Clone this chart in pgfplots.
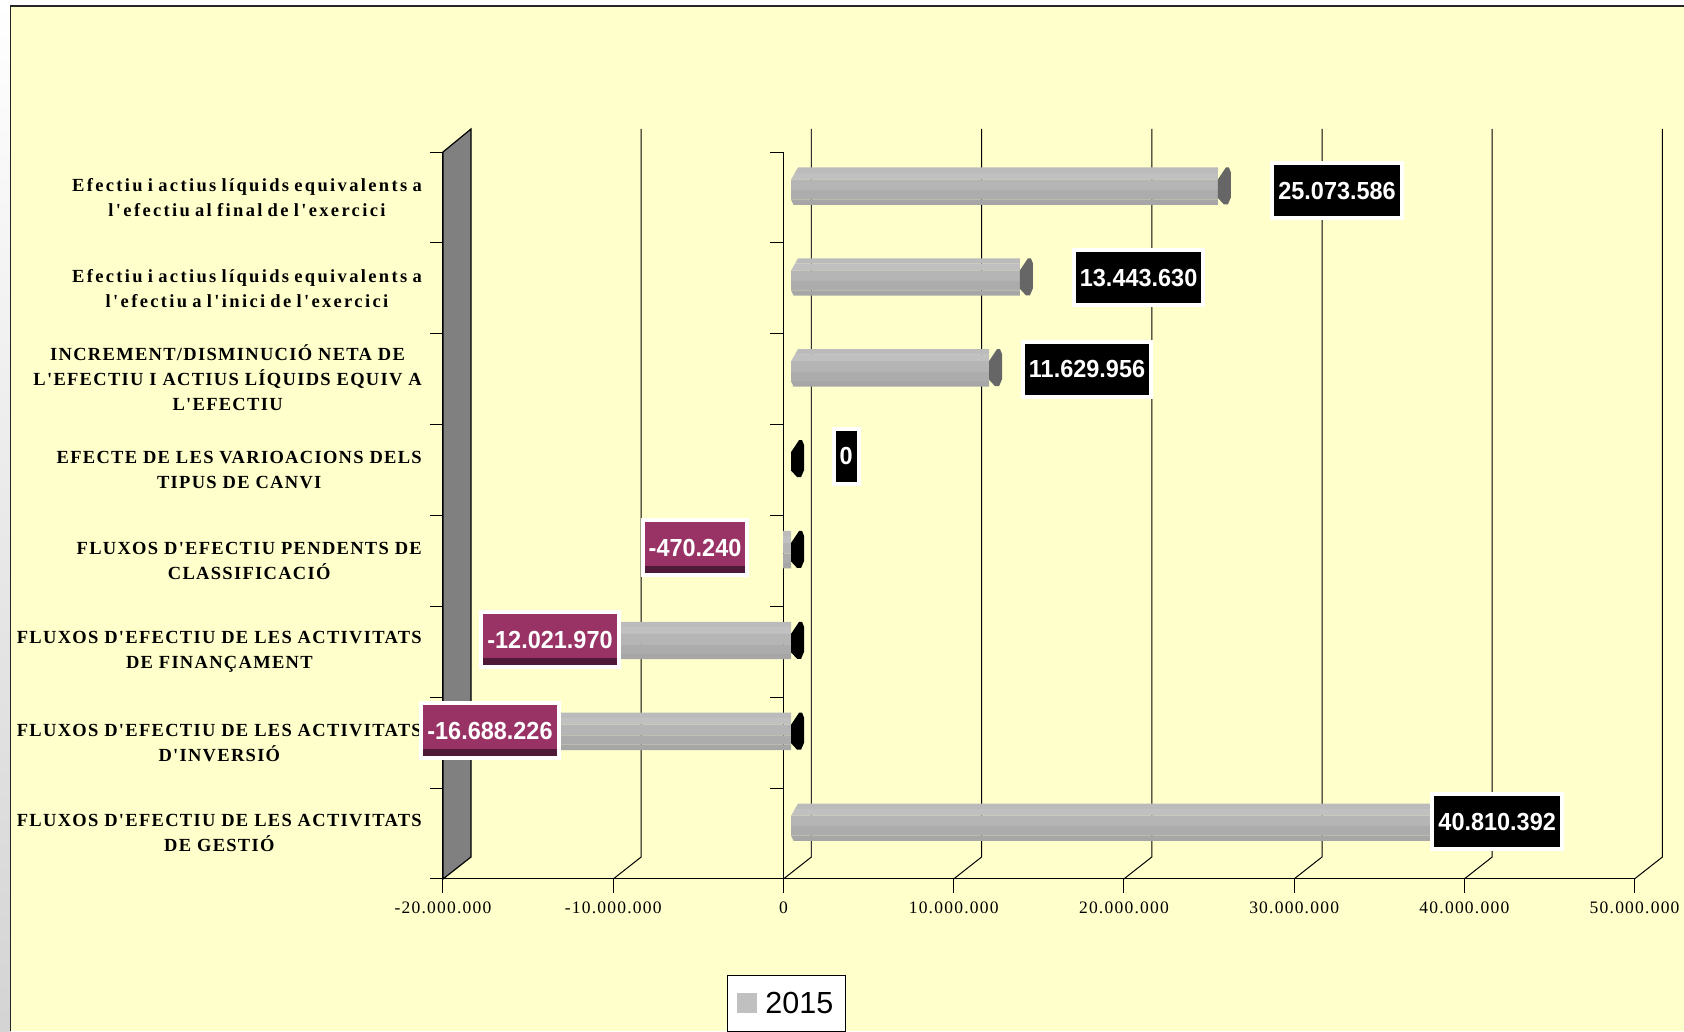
\documentclass[border=0pt]{standalone}
\usepackage{fontspec}
\usepackage{pgfplots}
\pgfplotsset{compat=1.18}
\setmainfont{Liberation Serif}
\newfontfamily\arialf[FakeStretch=0.95]{Liberation Sans}
\newfontfamily\legf{Liberation Sans}
\newfontfamily\catf[LetterSpace=12.7,WordSpace=0.75]{Liberation Serif}
\newfontfamily\catu[LetterSpace=7,WordSpace=1]{Liberation Serif}
\newfontfamily\tickf[LetterSpace=7]{Liberation Serif}
\newcommand\Ul[2][0pt]{\raisebox{#1}{\catu\bfseries #2}}
\definecolor{paper}{HTML}{FFFFCC}
\definecolor{wallc}{HTML}{808080}
\definecolor{bA}{HTML}{BBBBBB}
\definecolor{bB}{HTML}{C0C0C0}
\definecolor{bC}{HTML}{B5B5B5}
\definecolor{bD}{HTML}{ACACAC}
\definecolor{bE}{HTML}{A6A6A6}
\definecolor{capc}{HTML}{666666}
\definecolor{neglab}{HTML}{993366}
\definecolor{negdark}{HTML}{4F1A38}
\pgfdeclareplotmark{barcap}{%
  \pgfpathmoveto{\pgfpoint{0pt}{6.5pt}}%
  \pgfpathlineto{\pgfpoint{8pt}{18.5pt}}%
  \pgfpathlineto{\pgfpoint{11pt}{18.5pt}}%
  \pgfpathlineto{\pgfpoint{13pt}{13.5pt}}%
  \pgfpathlineto{\pgfpoint{13pt}{-11.5pt}}%
  \pgfpathlineto{\pgfpoint{10pt}{-18.5pt}}%
  \pgfpathlineto{\pgfpoint{6pt}{-18.5pt}}%
  \pgfpathlineto{\pgfpoint{0pt}{-12pt}}%
  \pgfpathclose\pgfusepathqfill}
\pgfdeclareplotmark{barstart}{%
  \pgfpathmoveto{\pgfpoint{0pt}{6.5pt}}%
  \pgfpathlineto{\pgfpoint{7pt}{19pt}}%
  \pgfpathlineto{\pgfpoint{0pt}{19pt}}%
  \pgfpathclose
  \pgfpathmoveto{\pgfpoint{0pt}{-14pt}}%
  \pgfpathlineto{\pgfpoint{2.5pt}{-19pt}}%
  \pgfpathlineto{\pgfpoint{0pt}{-19pt}}%
  \pgfpathclose\pgfusepathqfill}
\pgfplotstableread{
x y
40810392 0
-16688226 1
-12021970 2
-470240 3
0 4
11629956 5
13443630 6
25073586 7
}\flows
\tikzset{
  vallab/.style={font=\fontsize{24.7}{28}\selectfont\arialf\bfseries, text=white,
    fill=black, draw=white, line width=4pt, inner xsep=6pt, inner ysep=0pt,
    minimum height=55pt, anchor=center},
  neglabel/.style={vallab, fill=neglab, path picture={
    \fill[negdark] ([yshift=-1pt]path picture bounding box.south west) rectangle ([yshift=9pt,xshift=1pt]path picture bounding box.south east);}}
}
\begin{document}
\begin{tikzpicture}[x=1pt,y=1pt]
\useasboundingbox (0,0) rectangle (1684,1031);
\begin{scope}
\clip (0,0) rectangle (1684,1031);
\shade[top color=white,bottom color=black!17] (0,0) rectangle (11,1031);
\fill[white] (0,1025) rectangle (1684,1031);
\fill[paper] (11,0) rectangle (1684,1025);
\draw[line width=1.3pt,black!85] (10.5,0) -- (10.5,1025) -- (1684,1025);
% side wall
\filldraw[fill=wallc,draw=black,line width=1.2pt] (443,152) -- (471,174) -- (471,902) -- (443,879) -- cycle;
% gridlines on the back wall and their floor lines
\foreach \xx in {1,...,7}{
  \draw[black,line width=1pt] (443+170.2*\xx,152) -- (471+170.2*\xx,174) -- (471+170.2*\xx,902);
}
\draw[black!80,line width=1.6pt] (811.4,174) -- (811.4,902);
\end{scope}
\begin{axis}[
  at={(443pt,152pt)}, anchor=south west, scale only axis,
  width=1191.6pt, height=727pt,
  xmin=-20000000, xmax=50000000, ymin=-0.5, ymax=7.5,
  axis x line*=bottom, axis y line*=left,
  axis line style={-,black,line width=1pt},
  xtick={-20000000,-10000000,0,10000000,20000000,30000000,40000000,50000000},
  xticklabels={-20.000.000,-10.000.000,0,10.000.000,20.000.000,30.000.000,40.000.000,50.000.000},
  xticklabel style={font=\fontsize{17.5}{20}\selectfont\tickf, inner sep=0pt, yshift=-9pt},
  scaled x ticks=false,
  ytick={0,1,2,3,4,5,6,7},
  yticklabels={
    {\Ul[1.5pt]{FLUXOS D'EFECTIU DE LES ACTIVITATS}\\\Ul[1.5pt]{DE GESTIÓ}},
    {\Ul{FLUXOS D'EFECTIU DE LES ACTIVITATS}\\\Ul{D'INVERSIÓ}},
    {\Ul[-2pt]{FLUXOS D'EFECTIU DE LES ACTIVITATS}\\\Ul[-2pt]{DE FINANÇAMENT}},
    {\Ul{FLUXOS D'EFECTIU PENDENTS DE}\\\Ul{CLASSIFICACIÓ}},
    {\Ul{EFECTE DE LES VARIOACIONS DELS}\\\Ul{TIPUS DE CANVI}},
    {\Ul[2.5pt]{INCREMENT/DISMINUCIÓ NETA DE}\\\Ul[2.5pt]{L'EFECTIU I ACTIUS LÍQUIDS EQUIV A}\\\Ul[2.5pt]{L'EFECTIU}},
    {Efectiu i actius líquids equivalents a\\l'efectiu a l'inici de l'exercici},
    {Efectiu i actius líquids equivalents a\\l'efectiu al final de l'exercici}},
  yticklabel style={font=\fontsize{18.5}{25}\selectfont\catf\bfseries, align=center, inner sep=0pt, xshift=-7pt},
  minor ytick={-0.5,0.5,1.5,2.5,3.5,4.5,5.5,6.5,7.5},
  major y tick style={draw=none},
  minor y tick style={draw=black,line width=1pt},
  major x tick style={draw=black,line width=1pt},
  tick align=outside, major tick length=14pt, minor tick length=13pt,
  clip=false,
]
\draw[black,line width=1pt] (axis cs:0,-0.5) -- (axis cs:0,7.5);
\pgfplotsinvokeforeach{-0.5,0.5,1.5,2.5,3.5,4.5,5.5,6.5,7.5}{
  \draw[black,line width=1pt] (axis cs:0,#1) -- ++(-13pt,0pt);
}
\end{axis}
\begin{axis}[
  at={(450.6pt,163.5pt)}, anchor=south west, scale only axis,
  width=1191.6pt, height=727pt,
  xmin=-20000000, xmax=50000000, ymin=-0.5, ymax=7.5,
  hide axis, clip=false,
  legend style={at={(0.2319,-0.1479)}, anchor=north west, draw=black, fill=white,
    line width=1pt, font=\fontsize{30.5}{36}\selectfont\legf, inner xsep=10pt, inner ysep=14.5pt},
  legend image code/.code={\fill[bB] (0pt,-10pt) rectangle (20pt,10pt); \path (26pt,0pt);},
]
% bars, five bands each
\addplot[xbar, bar width=5.4pt, bar shift=15.85pt, fill=bA, draw=none, forget plot] table {\flows};
\addplot[xbar, bar width=6.8pt, bar shift=9.85pt, fill=bB, draw=none] table {\flows};
\addlegendentry{2015}
\addplot[xbar, bar width=10.8pt, bar shift=1.15pt, fill=bC, draw=none, forget plot] table {\flows};
\addplot[xbar, bar width=9.4pt, bar shift=-8.85pt, fill=bD, draw=none, forget plot] table {\flows};
\addplot[xbar, bar width=5.4pt, bar shift=-16.15pt, fill=bE, draw=none, forget plot] table {\flows};
% chamfered start of the positive bars
\addplot[only marks, mark=barstart, mark options={draw=none,fill=paper}, forget plot] coordinates {(0,0) (0,5) (0,6) (0,7)};
% end faces
\addplot[only marks, mark=barcap, mark options={draw=none,fill=capc}, forget plot] coordinates {(40810392,0) (11629956,5) (13443630,6) (25073586,7)};
\addplot[only marks, mark=barcap, mark options={draw=none,fill=black}, forget plot] coordinates {(0,1) (0,2) (0,3) (0,4)};
\end{axis}
% data labels, above every bar and end face
\begin{axis}[
  at={(450.6pt,163.5pt)}, anchor=south west, scale only axis,
  width=1191.6pt, height=727pt,
  xmin=-20000000, xmax=50000000, ymin=-0.5, ymax=7.5,
  hide axis, clip=false,
]
\node[vallab,xshift=119.2pt,yshift=-5pt] at (axis cs:25073586,7) {25.073.586};
\node[vallab,xshift=118.7pt,yshift=-1.1pt] at (axis cs:13443630,6) {13.443.630};
\node[vallab,xshift=98pt,yshift=-1.7pt] at (axis cs:11629956,5) {11.629.956};
\node[vallab,xshift=55pt,yshift=2.2pt] at (axis cs:0,4) {0};
\node[neglabel,xshift=-88pt,yshift=1.5pt] at (axis cs:-470240,3) {-470.240};
\node[neglabel,xshift=-36.4pt,yshift=0.5pt] at (axis cs:-12021970,2) {-12.021.970};
\node[neglabel,xshift=-17pt,yshift=0.5pt] at (axis cs:-16688226,1) {-16.688.226};
\node[vallab,xshift=11.4pt,yshift=0.5pt] at (axis cs:40810392,0) {40.810.392};
\end{axis}
\end{tikzpicture}
\end{document}
